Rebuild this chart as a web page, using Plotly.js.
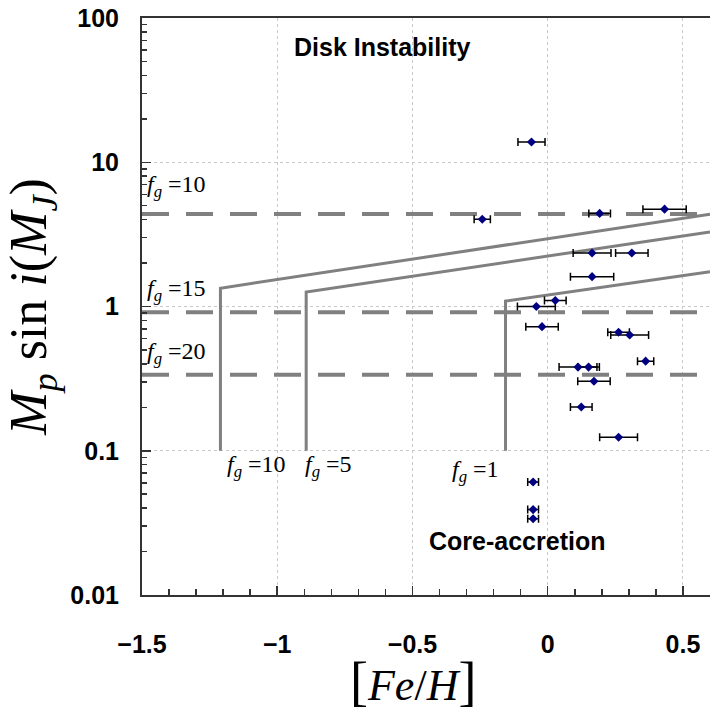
<!DOCTYPE html>
<html>
<head>
<meta charset="utf-8">
<script src="https://cdn.plot.ly/plotly-3.0.1.min.js"></script>
<style>html,body{margin:0;padding:0;background:#fff;}#chart{width:710px;height:715px;}</style>
</head>
<body>
<div id="chart"></div>
<script>
// Observed planets: metallicity [Fe/H], minimum mass Mp sin i (M_J), metallicity error
var feh  = [-0.060, -0.242, 0.192, 0.432, 0.164, 0.311, 0.164, 0.028, -0.042, -0.021, 0.262, 0.303, 0.362, 0.112, 0.151, 0.171, 0.124, 0.262, -0.054, -0.054, -0.054];
var mass = [13.8, 4.03, 4.42, 4.73, 2.35, 2.35, 1.61, 1.10, 1.00, 0.725, 0.663, 0.635, 0.418, 0.380, 0.380, 0.303, 0.201, 0.124, 0.0607, 0.0391, 0.0338];
var fehErr = [0.05, 0.03, 0.04, 0.08, 0.07, 0.06, 0.08, 0.04, 0.07, 0.06, 0.04, 0.07, 0.03, 0.07, 0.04, 0.06, 0.04, 0.07, 0.02, 0.02, 0.02];

// Core-accretion boundary curves (solid)
var fg10X = [-1.21, -1.21, 0.6];
var fg10Y = [0.1, 1.34, 4.37];
var fg5X  = [-0.893, -0.893, 0.6];
var fg5Y  = [0.1, 1.26, 3.29];
var fg1X  = [-0.156, -0.156, 0.6];
var fg1Y  = [0.1, 1.09, 1.74];

// Disk-instability thresholds (dashed)
var dashX = [-1.5, 0.6];
var dashLevels = [4.37, 0.912, 0.336];

var xTicks = [-1.5, -1, -0.5, 0, 0.5];
var xTickText = ['\u22121.5', '\u22121', '\u22120.5', '0', '0.5'];
var yTicks = [0.01, 0.1, 1, 10, 100];
var yTickText = ['0.01', '0.1', '1', '10', '100'];

var gray = '#808080';
var traces = [];
dashLevels.forEach(function (lv) {
  traces.push({x: dashX, y: [lv, lv], mode: 'lines', line: {color: gray, width: 4, dash: '27px,17px'}, hoverinfo: 'skip'});
});
[[fg10X, fg10Y], [fg5X, fg5Y], [fg1X, fg1Y]].forEach(function (c) {
  traces.push({x: c[0], y: c[1], mode: 'lines', line: {color: gray, width: 3}, hoverinfo: 'skip'});
});
traces.push({
  x: feh, y: mass, mode: 'markers', type: 'scatter',
  marker: {symbol: 'diamond', color: '#000080', size: 7},
  error_x: {type: 'data', array: fehErr, visible: true, color: '#000', thickness: 1.5, width: 4}
});

var serif = 'Liberation Serif, Times New Roman, serif';
var sans = 'Liberation Sans, Arial, sans-serif';
function fgLabel(v) { return '<i>f</i><sub><i>g</i></sub> =' + v; }
function ann(text, x, y, xa, font) {
  return {text: text, x: x, y: y, xref: 'x', yref: 'y', xanchor: xa, yanchor: 'middle', showarrow: false, font: font};
}
var fgFont = {family: serif, size: 24, color: '#000'};
var boldFont = {family: sans, size: 25, color: '#000', weight: 'bold'};
var tickFont = {family: sans, size: 25, color: '#000', weight: 'bold'};

var layout = {
  width: 710, height: 715,
  margin: {l: 142, r: 0, t: 18, b: 120},
  paper_bgcolor: '#fff', plot_bgcolor: '#fff',
  showlegend: false,
  xaxis: {
    range: [-1.5, 0.6],
    tickvals: xTicks, ticktext: xTickText,
    ticks: 'inside', ticklen: 9, tickwidth: 1.5, tickcolor: '#333',
    ticklabelstandoff: 26,
    tickfont: tickFont,
    minor: {dtick: 0.1, ticks: 'inside', ticklen: 6, tickwidth: 1.5, tickcolor: '#333', showgrid: false},
    showgrid: true, gridcolor: '#c8c8c8', griddash: 'dot', gridwidth: 1,
    showline: true, linecolor: '#333', linewidth: 2, mirror: true,
    zeroline: false
  },
  yaxis: {
    type: 'log', range: [-2, 2],
    tickvals: yTicks, ticktext: yTickText,
    ticks: 'inside', ticklen: 9, tickwidth: 1.5, tickcolor: '#333',
    ticklabelstandoff: 16,
    tickfont: tickFont,
    minor: {dtick: 'D1', ticks: 'inside', ticklen: 5, tickwidth: 1.5, tickcolor: '#333', showgrid: false},
    showgrid: true, gridcolor: '#c8c8c8', griddash: 'dot', gridwidth: 1,
    showline: true, linecolor: '#333', linewidth: 2, mirror: false,
    zeroline: false,
    title: {text: '<i>M</i><sub><i>p</i></sub> sin <i>i</i>(<i>M</i><sub><i>J</i></sub>)',
            font: {family: serif, size: 52, color: '#000'}, standoff: 14}
  },
  annotations: [
    {text: '<span style="font-size:54px">[</span><i>Fe</i>/<i>H</i><span style="font-size:54px">]</span>',
     xref: 'paper', yref: 'paper', x: (413 - 142) / 568, y: -(682 - 595) / 577,
     xanchor: 'center', yanchor: 'middle', showarrow: false,
     font: {family: serif, size: 44, color: '#000'}},
    ann('Disk Instability', -0.609, 1.796, 'center', boldFont),
    ann('Core-accretion', -0.114, -1.623, 'center', boldFont),
    ann(fgLabel(10), -1.489, 0.834, 'left', fgFont),
    ann(fgLabel(15), -1.489, 0.114, 'left', fgFont),
    ann(fgLabel(20), -1.489, -0.322, 'left', fgFont),
    ann(fgLabel(10), -1.192, -1.104, 'left', fgFont),
    ann(fgLabel(5), -0.904, -1.104, 'left', fgFont),
    ann(fgLabel(1), -0.362, -1.138, 'left', fgFont)
  ]
};

Plotly.newPlot('chart', traces, layout, {displayModeBar: false, staticPlot: true});
</script>
</body>
</html>
